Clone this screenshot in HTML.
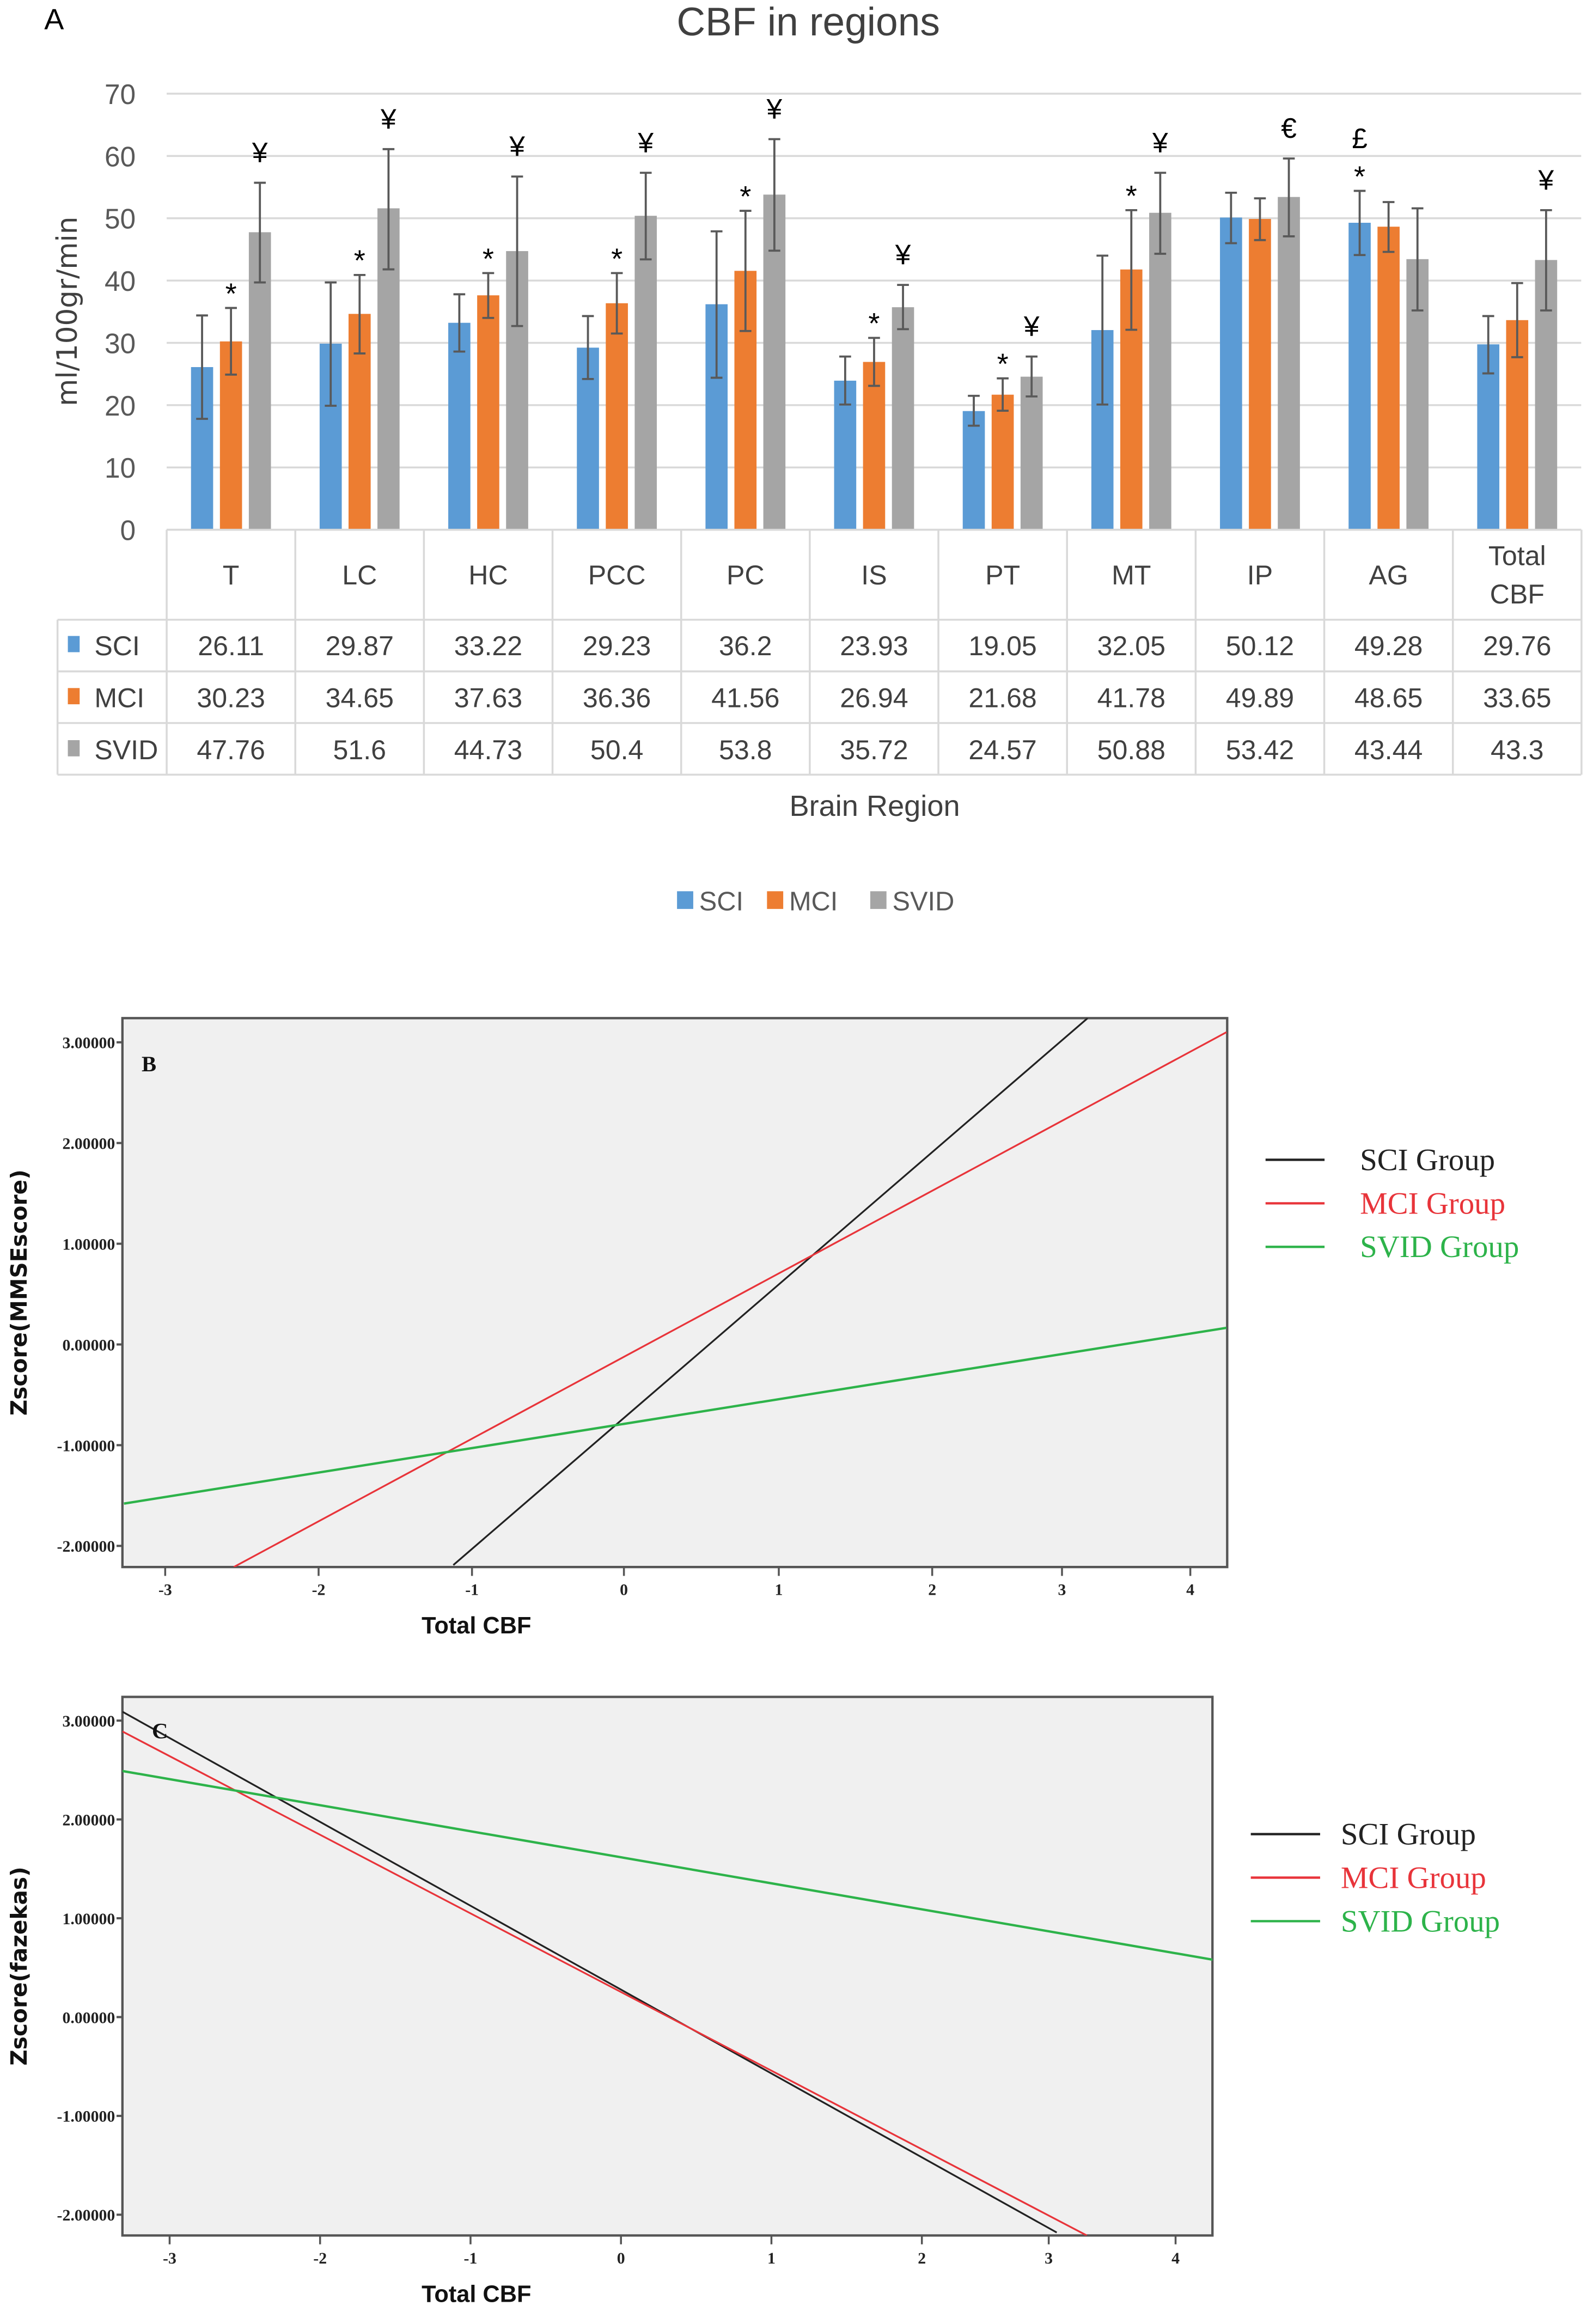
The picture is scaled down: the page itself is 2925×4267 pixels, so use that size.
<!DOCTYPE html>
<html><head><meta charset="utf-8"><style>
html,body{margin:0;padding:0;background:#fff}
svg{display:block}
</style></head><body>
<svg id="root" width="2925" height="4267" viewBox="0 0 1080 1575" preserveAspectRatio="none" xmlns="http://www.w3.org/2000/svg">
<rect width="1080" height="1575" fill="#fff"/>
<g id="panelA"></g>
<g id="panelB"></g>
<g id="panelC"></g>
</svg>
<script>
// ---------- Panel A data ----------
const categories = ["T","LC","HC","PCC","PC","IS","PT","MT","IP","AG","Total CBF"];
const sciValues  = [26.11,29.87,33.22,29.23,36.2,23.93,19.05,32.05,50.12,49.28,29.76];
const mciValues  = [30.23,34.65,37.63,36.36,41.56,26.94,21.68,41.78,49.89,48.65,33.65];
const svidValues = [47.76,51.6,44.73,50.4,53.8,35.72,24.57,50.88,53.42,43.44,43.3];
const sciHigh  = [34.4,39.7,37.8,34.3,47.9,27.8,21.5,44.0,54.1,54.4,34.3];
const sciLow   = [17.8,19.9,28.6,24.2,24.4,20.1,16.7,20.1,46.0,44.1,25.1];
const mciHigh  = [35.6,40.9,41.2,41.2,51.2,30.8,24.3,51.3,53.2,52.6,39.6];
const mciLow   = [24.9,28.3,34.0,31.5,31.9,23.1,19.1,32.1,46.5,44.6,27.7];
const svidHigh = [55.7,61.1,56.7,57.3,62.7,39.3,27.8,57.3,59.6,51.6,51.3];
const svidLow  = [39.7,41.8,32.7,43.4,44.8,32.2,21.4,44.3,47.1,35.2,35.2];
const mciMarks  = ["*","*","*","*","*","*","*","*","","",""];
const sciMarks  = ["","","","","","","","","","*",""];
const svidMarks = ["¥","¥","¥","¥","¥","¥","¥","¥","€","","¥"];
const sciTopMarks = ["","","","","","","","","","£",""];
const yTicksA = [0,10,20,30,40,50,60,70];

// ---------- Panel B/C data ----------
const seriesNames = ["SCI Group","MCI Group","SVID Group"];
const bSciX = [-1.11,3.05],  bSciY = [-2.19,3.24];
const bMciX = [-2.55,3.96],  bMciY = [-2.21,3.10];
const bSvidX = [-3.27,3.96], bSvidY = [-1.58,0.165];
const cSciX = [-3.28,2.93],  cSciY = [3.09,-2.18];
const cMciX = [-3.28,3.13],  cMciY = [2.89,-2.21];
const cSvidX = [-3.28,3.97], cSvidY = [2.49,0.58];
const xTickVals = [-3,-2,-1,0,1,2,3,4];
const yTickVals = [3,2,1,0,-1,-2];

const NS="http://www.w3.org/2000/svg";
function mk(tag,attrs,parent,text){const e=document.createElementNS(NS,tag);for(const k in attrs)e.setAttribute(k,attrs[k]);if(text!==undefined)e.textContent=text;parent.appendChild(e);return e;}

// ---------- Panel A ----------
(function(){
const g=document.getElementById('panelA');
const x0=113,step=87.2,y0=359,y70=63.5;
const yS=v=>y0-(v/70)*(y0-y70);
const colors=["#5B9BD5","#ED7D31","#A5A5A5"];
let t;
t=mk('text',{x:30,y:20,'font-family':'Liberation Sans, sans-serif','font-size':20,fill:'#000'},g,'A');

t=mk('text',{x:548,y:24,'text-anchor':'middle','font-family':'Liberation Sans, sans-serif','font-size':27,fill:'#404040'},g,'CBF in regions');

t=mk('text',{transform:'translate(52,211) rotate(-90)','text-anchor':'middle','font-family':'DejaVu Sans, sans-serif','font-size':19,fill:'#404040'},g,'ml/100gr/min');

yTicksA.forEach(v=>{
  const l=mk('line',{x1:x0,x2:1072,y1:yS(v),y2:yS(v),stroke:'#D9D9D9','stroke-width':1.3},g);
  
  const tt=mk('text',{x:92,y:yS(v)+7,'text-anchor':'end','font-family':'Liberation Sans, sans-serif','font-size':19,fill:'#595959'},g,String(v));
  
});
const series=[[sciValues,sciHigh,sciLow],[mciValues,mciHigh,mciLow],[svidValues,svidHigh,svidLow]];
const bw=15,bstep=19.6,off=(step-(2*bstep+bw))/2;
categories.forEach((c,i)=>{
  series.forEach((s,j)=>{
    const bx=x0+i*step+off+j*bstep;
    const r=mk('rect',{x:bx,y:yS(s[0][i]),width:bw,height:y0-yS(s[0][i]),fill:colors[j]},g);
    
    
    const cx=bx+bw/2;
    const e=mk('path',{d:`M${cx},${yS(s[1][i])}V${yS(s[2][i])}M${cx-4},${yS(s[1][i])}H${cx+4}M${cx-4},${yS(s[2][i])}H${cx+4}`,stroke:'#595959','stroke-width':1.4,fill:'none'},g);
    
    const mk1=[sciMarks,mciMarks,svidMarks][j][i];
    if(mk1){
      const m=mk('text',{x:cx,y:yS(s[1][i])-(mk1==='*'?3:14),'text-anchor':'middle','font-family':'Liberation Sans, sans-serif','font-size':mk1==='*'?20:19,fill:'#000'},g,mk1);
      
    }
    if(j===0&&sciTopMarks[i]){
      const m=mk('text',{x:cx,y:yS(s[1][i])-29,'text-anchor':'middle','font-family':'Liberation Sans, sans-serif','font-size':19,fill:'#000'},g,sciTopMarks[i]);
      
    }
  });
});
// data table
const tg=mk('g',{},g);
const ls={stroke:'#D9D9D9','stroke-width':1.3};
mk('line',Object.assign({x1:x0,x2:1072,y1:359,y2:359},ls),tg);
[420,455,490,525].forEach(y=>mk('line',Object.assign({x1:39,x2:1072,y1:y,y2:y},ls),tg));
for(let i=0;i<=categories.length;i++){const x=x0+i*step;mk('line',Object.assign({x1:x,x2:x,y1:359,y2:525},ls),tg);}
mk('line',Object.assign({x1:39,x2:39,y1:420,y2:525},ls),tg);
const tf={'font-family':'Liberation Sans, sans-serif','font-size':18.5,fill:'#404040','text-anchor':'middle'};
categories.forEach((c,i)=>{
  const cx=x0+i*step+step/2;
  if(c==='Total CBF'){
    let a=mk('text',Object.assign({x:cx,y:383},tf),tg,'Total');
    a=mk('text',Object.assign({x:cx,y:409},tf),tg,'CBF');
  } else {
    const a=mk('text',Object.assign({x:cx,y:396},tf),tg,c);
  }
  [sciValues,mciValues,svidValues].forEach((s,j)=>{
    const a=mk('text',Object.assign({x:cx,y:444+j*35.3},tf),tg,String(s[i]));
    
  });
});
["SCI","MCI","SVID"].forEach((n,j)=>{
  const r=mk('rect',{x:46,y:431+j*35.3,width:8,height:11,fill:colors[j]},tg);
  
  const a=mk('text',{x:64,y:444+j*35.3,'font-family':'Liberation Sans, sans-serif','font-size':18.5,fill:'#404040'},tg,n);
  
});
t=mk('text',{x:593,y:553,'text-anchor':'middle','font-family':'Liberation Sans, sans-serif','font-size':20,fill:'#404040'},g,'Brain Region');

[[459,'SCI'],[520,'MCI'],[590,'SVID']].forEach((p,j)=>{
  const lg=mk('g',{},g);
  mk('rect',{x:p[0],y:604,width:11,height:12,fill:colors[j]},lg);
  mk('text',{x:p[0]+15,y:617,'font-family':'Liberation Sans, sans-serif','font-size':18,fill:'#595959'},lg,p[1]);
});
})();

// ---------- Panels B/C ----------
function linePanel(id,fx0,fx1,fy0,fy1,xTickPx,ylabel,letter,lx,sX,sY,legX,legY,legLine,legGap){
  const g=document.getElementById(id);
  const xmin=-3.28,xmax=3.965,ytop=3.24,ybot=-2.21;
  const xs=v=>fx0+(v-xmin)/(xmax-xmin)*(fx1-fx0);
  const ys=v=>fy0+(ytop-v)/(ytop-ybot)*(fy1-fy0);
  const bg=mk('rect',{x:fx0,y:fy0,width:fx1-fx0,height:fy1-fy0,fill:'#F0F0F0',stroke:'#555','stroke-width':1.6},g);
  
  const cid=id+'clip';
  const cp=mk('clipPath',{id:cid},g);mk('rect',{x:fx0,y:fy0,width:fx1-fx0,height:fy1-fy0},cp);
  const cols=['#222','#E8343A','#2DB34A'];
  const names=['sci','mci','svid'];
  for(let k=0;k<3;k++){
    const l=mk('line',{x1:xs(sX[k][0]),y1:ys(sY[k][0]),x2:xs(sX[k][1]),y2:ys(sY[k][1]),stroke:cols[k],'stroke-width':k===2?1.6:1.2,'clip-path':`url(#${cid})`},g);
    
  }
  yTickVals.forEach(v=>{
    const y=ys(v);
    const tk=mk('line',{x1:fx0-4,x2:fx0,y1:y,y2:y,stroke:'#555','stroke-width':1.5},g);
    
    const tt=mk('text',{x:fx0-5,y:y+4,'text-anchor':'end','font-family':'Liberation Serif, serif','font-size':11,'font-weight':'bold',fill:'#222'},g,v.toFixed(5));
    
  });
  xTickVals.forEach((v,i)=>{
    const x=xTickPx[i];
    const tk=mk('line',{x1:x,x2:x,y1:fy1,y2:fy1+6,stroke:'#555','stroke-width':1.3},g);
    
    const tt=mk('text',{x:x,y:fy1+19,'text-anchor':'middle','font-family':'Liberation Serif, serif','font-size':11,'font-weight':'bold',fill:'#222'},g,String(v));
    
  });
  let t=mk('text',{x:fx0+240,y:fy1+45,'text-anchor':'middle','font-family':'Liberation Sans, sans-serif','font-size':16,'font-weight':'bold',fill:'#111'},g,'Total  CBF');
  
  t=mk('text',{transform:`translate(18,${(fy0+fy1)/2}) rotate(-90)`,'text-anchor':'middle','font-family':'DejaVu Sans, sans-serif','font-size':15,'font-weight':'bold',fill:'#111'},g,ylabel);
  
  t=mk('text',{x:lx[0],y:lx[1],'font-family':'Liberation Serif, serif','font-size':15,'font-weight':'bold',fill:'#111'},g,letter);
  
  seriesNames.forEach((n,k)=>{
    const lg=mk('g',{},g);
    const y=legY+k*29.5;
    mk('line',{x1:legX,x2:legX+legLine,y1:y,y2:y,stroke:cols[k],'stroke-width':1.6},lg);
    mk('text',{x:legX+legLine+legGap,y:y+7,'font-family':'Liberation Serif, serif','font-size':21,fill:cols[k]},lg,n);
  });
}
linePanel('panelB',83,832,690,1062,[112,216,320,423,528,632,720,807],'Zscore(MMSEscore)','B',[96,726],
  [bSciX,bMciX,bSvidX],[bSciY,bMciY,bSvidY],858,786,40,24);
linePanel('panelC',83,822,1150,1515,[115,217,319,421,523,625,711,797],'Zscore(fazekas)','C',[103,1178],
  [cSciX,cMciX,cSvidX],[cSciY,cMciY,cSvidY],848,1243,47,14);
</script>
</body></html>
